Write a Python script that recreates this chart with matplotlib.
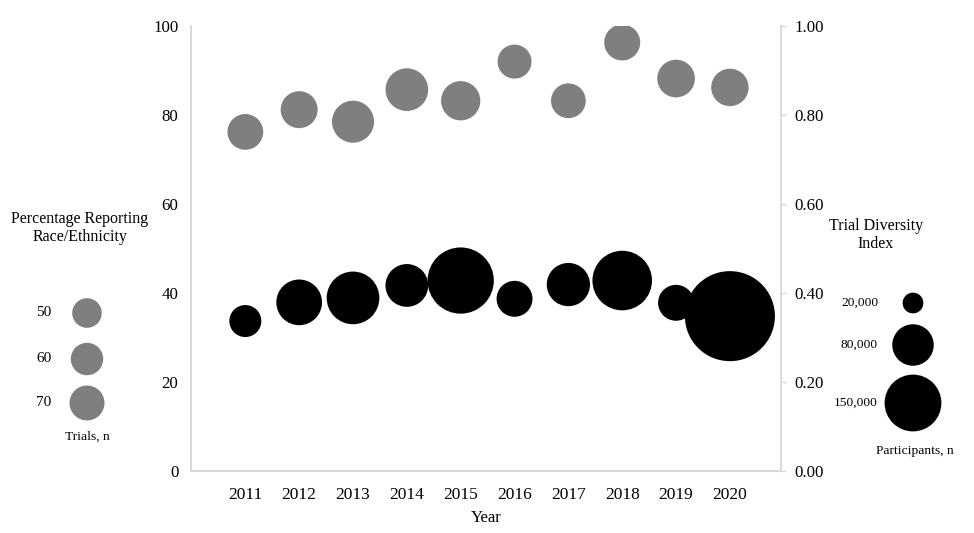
import matplotlib
matplotlib.use("Agg")
import matplotlib.pyplot as plt

plt.rcParams['font.family'] = ['Liberation Serif', 'DejaVu Serif']

years = [2011, 2012, 2013, 2014, 2015, 2016, 2017, 2018, 2019, 2020]
pct_reporting = [76.2, 81.2, 78.5, 85.7, 83.2, 92.0, 83.2, 96.3, 88.2, 86.2]
trials_n = [73, 78, 101, 104, 88, 66, 69, 74, 81, 80]
diversity_index = [0.337, 0.379, 0.389, 0.417, 0.428, 0.387, 0.419, 0.428, 0.378, 0.348]
participants_n = [47600, 97000, 129000, 85000, 204000, 60000, 87000, 165000, 60000, 377000]

trials_legend = [50, 60, 70]
participants_legend = [20000, 80000, 150000]
participants_legend_labels = ["20,000", "80,000", "150,000"]

GRAY = "#7f7f7f"
AXCOL = "#d9d9d9"


def trial_size(n):
    return 9.07 * n


def part_size(n):
    return 0.01115 * n


fig = plt.figure(figsize=(9.74, 5.33), dpi=100)
ax = fig.add_axes([0.1966, 0.1163, 0.6053, 0.8349])
ax2 = ax.twinx()

ax.scatter(years, pct_reporting, s=[trial_size(v) for v in trials_n],
           color=GRAY, linewidths=0, zorder=3)
ax2.scatter(years, diversity_index, s=[part_size(v) for v in participants_n],
            color="black", linewidths=0, zorder=3)

ax.set_xlim(2010, 2020.95)
ax.set_ylim(0, 100)
ax2.set_ylim(0, 1.0)
ax.set_xticks(years)
ax.set_xticklabels([str(y) for y in years])
ax.set_yticks([0, 20, 40, 60, 80, 100])
ax2.set_yticks([0, 0.2, 0.4, 0.6, 0.8, 1.0])
ax2.set_yticklabels(["0.00", "0.20", "0.40", "0.60", "0.80", "1.00"])

for a in (ax, ax2):
    for sp in a.spines.values():
        sp.set_color(AXCOL)
        sp.set_linewidth(1.2)
    a.spines['top'].set_visible(False)

ax.tick_params(axis='x', length=0, pad=11.5, labelsize=12.5)
ax.tick_params(axis='y', length=0, pad=9.5, labelsize=12.2)
ax2.tick_params(axis='y', length=3.5, width=1, color=AXCOL, pad=6, labelsize=12.2)
ax.set_xlabel("Year", fontsize=12, labelpad=5)

# Legends drawn in a figure-pixel overlay
lax = fig.add_axes([0, 0, 1, 1], zorder=5)
lax.set_xlim(0, 974)
lax.set_ylim(533, 0)
lax.axis('off')
lax.patch.set_alpha(0)

lax.text(80, 228, "Percentage Reporting\nRace/Ethnicity", ha='center', va='center',
         fontsize=11.5, linespacing=1.15)
gy = [313, 359, 403]
lax.scatter([87] * 3, gy, s=[trial_size(v) for v in trials_legend], color=GRAY, linewidths=0)
for yy, v in zip(gy, trials_legend):
    lax.text(44, yy, str(v), ha='center', va='center', fontsize=11)
lax.text(87, 437, "Trials, n", ha='center', va='center', fontsize=9.7)

lax.text(876, 235, "Trial Diversity\nIndex", ha='center', va='center',
         fontsize=11.5, linespacing=1.1)
py = [303, 345, 403]
lax.scatter([913] * 3, py, s=[part_size(v) for v in participants_legend], color="black", linewidths=0)
for yy, lab in zip(py, participants_legend_labels):
    lax.text(878, yy, lab, ha='right', va='center', fontsize=9.7)
lax.text(915, 451, "Participants, n", ha='center', va='center', fontsize=9.7)

fig.savefig("out.png", dpi=100)
